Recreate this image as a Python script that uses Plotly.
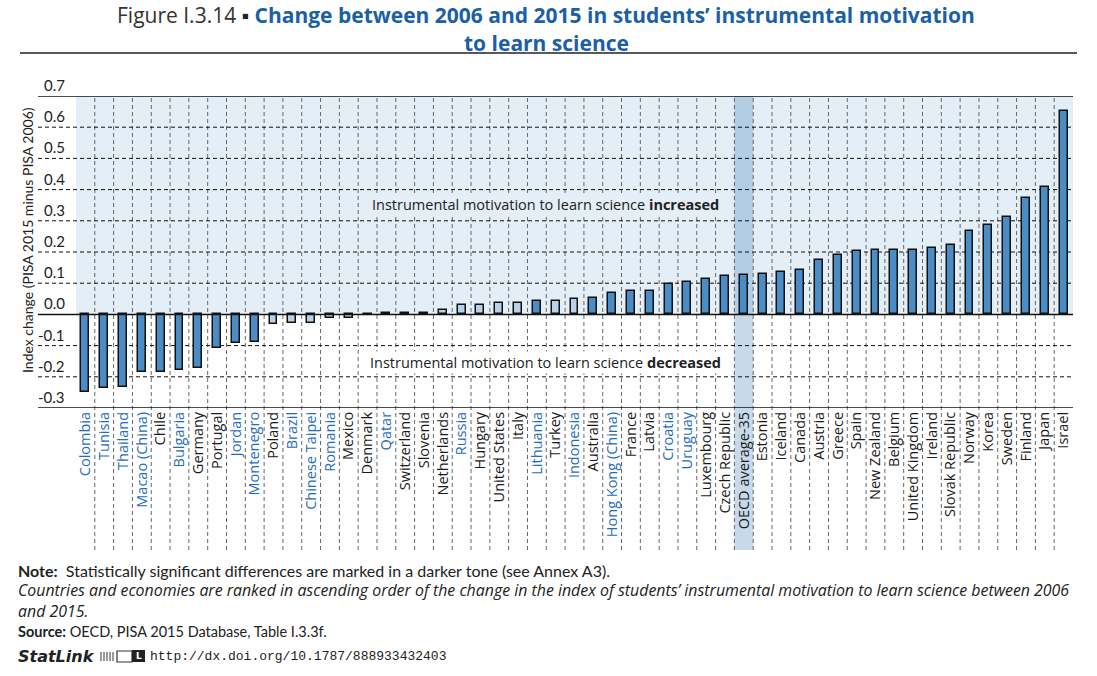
import plotly.graph_objects as go

countries = ["Colombia", "Tunisia", "Thailand", "Macao (China)", "Chile", "Bulgaria", "Germany",
             "Portugal", "Jordan", "Montenegro", "Poland", "Brazil", "Chinese Taipei", "Romania",
             "Mexico", "Denmark", "Qatar", "Switzerland", "Slovenia", "Netherlands", "Russia",
             "Hungary", "United States", "Italy", "Lithuania", "Turkey", "Indonesia", "Australia",
             "Hong Kong (China)", "France", "Latvia", "Croatia", "Uruguay", "Luxembourg",
             "Czech Republic", "OECD average-35", "Estonia", "Iceland", "Canada", "Austria",
             "Greece", "Spain", "New Zealand", "Belgium", "United Kingdom", "Ireland",
             "Slovak Republic", "Norway", "Korea", "Sweden", "Finland", "Japan", "Israel"]

change = [-0.250, -0.237, -0.234, -0.186, -0.183, -0.179, -0.173,
          -0.109, -0.093, -0.087, -0.031, -0.029, -0.026, -0.013,
          -0.013, -0.003, 0.003, 0.004, 0.006, 0.013, 0.029,
          0.029, 0.035, 0.038, 0.042, 0.042, 0.048, 0.054,
          0.070, 0.074, 0.074, 0.097, 0.103, 0.112,
          0.122, 0.125, 0.131, 0.135, 0.141, 0.173,
          0.189, 0.202, 0.205, 0.205, 0.205, 0.212,
          0.224, 0.266, 0.288, 0.311, 0.372, 0.407, 0.651]

significant = [1, 1, 1, 1, 1, 1, 1,
               1, 1, 1, 0, 0, 0, 0,
               0, 1, 1, 1, 0, 0, 0,
               0, 0, 0, 1, 0, 0, 1,
               1, 1, 1, 1, 1, 1,
               1, 1, 1, 1, 1, 1,
               1, 1, 1, 1, 1, 1,
               1, 1, 1, 1, 1, 1, 1]

partner = ["Colombia", "Tunisia", "Thailand", "Macao (China)", "Bulgaria", "Jordan", "Montenegro",
           "Brazil", "Chinese Taipei", "Romania", "Qatar", "Russia", "Lithuania", "Indonesia",
           "Hong Kong (China)", "Croatia", "Uruguay"]

y_ticks = [0.7, 0.6, 0.5, 0.4, 0.3, 0.2, 0.1, 0.0, -0.1, -0.2, -0.3]

W, H = 1097, 676
PLOT_L, PLOT_R, PLOT_T, PLOT_B = 76, 1073, 96, 408   # page pixel coordinates
L, R, T, B = PLOT_L, W - PLOT_R, PLOT_T, H - PLOT_B
PW = PLOT_R - PLOT_L
PH = PLOT_B - PLOT_T


def px(p):
    return (p - PLOT_L) / PW


def py(p):
    return (PLOT_B - p) / PH


DARK = "#4a8cc5"
LIGHT = "#b7d2ea"
BG = "#e3eef6"
BLUE_TXT = "#1f6cbd"
TITLE_BLUE = "#1a5fa8"
FONT = "Lato"
FONT2 = "Open Sans"

n = len(countries)
xs = list(range(n))
oecd_idx = countries.index("OECD average-35")

ticktext = []
for c in countries:
    col = BLUE_TXT if c in partner else "#1a1a1a"
    ticktext.append(f'<span style="color:{col}">{c}</span>')

fig = go.Figure()
fig.add_trace(go.Bar(
    x=xs, y=change,
    width=0.42,
    marker=dict(color=[DARK if s else LIGHT for s in significant],
                line=dict(color="#111111", width=1.5)),
    hoverinfo="skip",
))

shapes = []
shapes.append(dict(type="rect", xref="paper", yref="y", x0=0, x1=1, y0=0, y1=0.7,
                   fillcolor=BG, line=dict(width=0), layer="below"))
shapes.append(dict(type="rect", xref="x", yref="paper", x0=oecd_idx - 0.5, x1=oecd_idx + 0.5,
                   y0=py(550), y1=1, fillcolor="rgba(70,130,190,0.30)", line=dict(width=0),
                   layer="below"))
for i in range(n - 1):
    shapes.append(dict(type="line", xref="x", yref="paper", x0=i + 0.5, x1=i + 0.5,
                       y0=py(550), y1=1, line=dict(color="#666666", width=1, dash="4px,3px"),
                       layer="below"))
for v in y_ticks:
    solid = v in (0.7, 0.0, -0.3)
    shapes.append(dict(type="line", xref="paper", yref="y", x0=px(38), x1=1, y0=v, y1=v,
                       line=dict(color="#111111", width=1.5 if solid else 1,
                                 dash="solid" if solid else "4px,3px"),
                       layer="above" if v == 0.0 else "below"))
shapes.append(dict(type="line", xref="paper", yref="paper", x0=px(20), x1=px(1077),
                   y0=py(53), y1=py(53), line=dict(color="#222222", width=1.5)))
for k in range(5):
    shapes.append(dict(type="line", xref="paper", yref="paper", x0=px(101 + k * 3), x1=px(101 + k * 3),
                       y0=py(661), y1=py(652), line=dict(color="#777777", width=1.5)))
shapes.append(dict(type="rect", xref="paper", yref="paper", x0=px(117), x1=px(132),
                   y0=py(662), y1=py(651), fillcolor="#ffffff", line=dict(color="#333333", width=1.2)))
shapes.append(dict(type="rect", xref="paper", yref="paper", x0=px(132), x1=px(145),
                   y0=py(662), y1=py(650), fillcolor="#222222", line=dict(width=0)))

ann = []
ann.append(dict(xref="paper", yref="paper", x=px(546), y=py(15), xanchor="center", yanchor="middle",
                showarrow=False, borderpad=0,
                text=f'<span style="color:#333333">Figure I.3.14 </span><span style="color:#222222">▪</span> '
                     f'<span style="color:{TITLE_BLUE}"><b>Change between 2006 and 2015 in students’ instrumental motivation</b></span>',
                font=dict(family=FONT2, size=21)))
ann.append(dict(xref="paper", yref="paper", x=px(546), y=py(43), xanchor="center", yanchor="middle",
                showarrow=False, borderpad=0, text="<b>to learn science</b>",
                font=dict(family=FONT2, size=21, color=TITLE_BLUE)))
for v in y_ticks:
    ann.append(dict(xref="paper", yref="y", x=px(67), y=v, xanchor="right", yanchor="bottom",
                    showarrow=False, text=f"{v:.1f}",
                    font=dict(family=FONT, size=15, color="#222222")))
ann.append(dict(xref="paper", yref="paper", x=px(27), y=py(240), xanchor="center", yanchor="middle",
                showarrow=False, textangle=-90, text="Index change (PISA 2015 minus PISA 2006)",
                font=dict(family=FONT, size=14, color="#222222")))
ann.append(dict(xref="paper", yref="y", x=px(545), y=0.353, xanchor="center", yanchor="middle",
                showarrow=False, bgcolor=BG,
                text="Instrumental motivation to learn science <b>increased</b>",
                font=dict(family=FONT2, size=14.5, color="#222222")))
ann.append(dict(xref="paper", yref="y", x=px(545), y=-0.153, xanchor="center", yanchor="middle",
                showarrow=False, bgcolor="#ffffff",
                text="Instrumental motivation to learn science <b>decreased</b>",
                font=dict(family=FONT2, size=14.5, color="#222222")))
notes = [
    (570, "<b>Note:</b>  Statistically significant differences are marked in a darker tone (see Annex A3).", FONT, 16),
    (600.5, "<i>Countries and economies are ranked in ascending order of the change in the index of students’ instrumental motivation to learn science between 2006<br>and 2015.</i>", FONT2, 15.9),
    (631, "<b>Source:</b> OECD, PISA 2015 Database, Table I.3.3f.", FONT, 14.5),
    (656, "<b><i>StatLink</i></b>", "DejaVu Sans", 16),
]
for yy, txt, fam, sz in notes:
    ann.append(dict(xref="paper", yref="paper", x=px(17), y=py(yy), xanchor="left", yanchor="middle",
                    showarrow=False, text=txt, align="left", borderpad=0,
                    font=dict(family=fam, size=sz, color="#222222")))
ann.append(dict(xref="paper", yref="paper", x=px(148), y=py(656), xanchor="left", yanchor="middle",
                showarrow=False, text="http://dx.doi.org/10.1787/888933432403",
                font=dict(family="Liberation Mono", size=13, color="#222222")))
ann.append(dict(xref="paper", yref="paper", x=px(138.5), y=py(656), xanchor="center", yanchor="middle",
                showarrow=False, text="<b>L</b>",
                font=dict(family="DejaVu Sans", size=9, color="#ffffff")))

fig.update_layout(
    width=W, height=H,
    margin=dict(l=L, r=R, t=T, b=B),
    paper_bgcolor="#ffffff", plot_bgcolor="rgba(0,0,0,0)",
    showlegend=False,
    bargap=0,
    shapes=shapes,
    annotations=ann,
    xaxis=dict(range=[-0.5, n - 0.5], tickmode="array", tickvals=xs, ticktext=ticktext,
               tickangle=-90, showgrid=False, zeroline=False, showline=False, ticks="",
               tickfont=dict(family=FONT2, size=14.5, color="#1a1a1a"), fixedrange=True),
    yaxis=dict(range=[-0.3, 0.7], showticklabels=False, showgrid=False, zeroline=False,
               showline=False, ticks="", fixedrange=True),
    font=dict(family=FONT),
)

fig.write_html("out.html", config={"displayModeBar": False},
               post_script="document.body.style.margin='0';document.body.style.overflow='hidden';")
